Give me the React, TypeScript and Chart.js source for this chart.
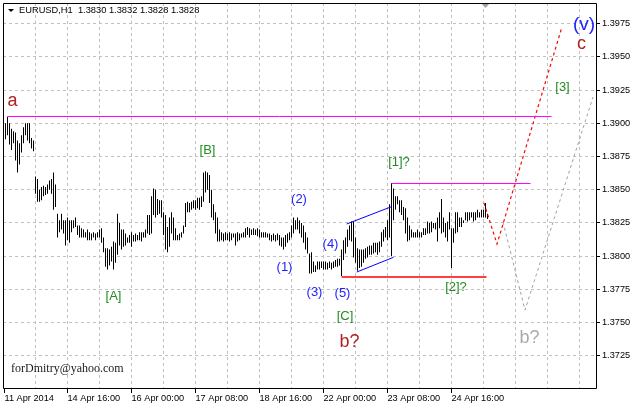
import React, { useEffect, useRef } from 'react';
import { Chart, registerables } from 'chart.js';

Chart.register(...registerables);

const symbolTitle = 'EURUSD,H1  1.3830 1.3832 1.3828 1.3828';
const watermark = 'forDmitry@yahoo.com';

// H1 bars (index 0 = first visible bar), high and low prices
const barHighs = [
  1.3900, 1.3905, 1.3900, 1.3896, 1.3894, 1.3893, 1.3887, 1.3885, 1.3891, 1.3897,
  1.3900, 1.3900, 1.3900, 1.3889, 1.3887, 1.3860, 1.3858, 1.3850, 1.3852, 1.3853,
  1.3852, 1.3854, 1.3857, 1.3858, 1.3863, 1.3854, 1.3832, 1.3827, 1.3832, 1.3827,
  1.3827, 1.3829, 1.3827, 1.3827, 1.3827, 1.3829, 1.3823, 1.3823, 1.3821, 1.3820,
  1.3818, 1.3820, 1.3818, 1.3817, 1.3818, 1.3817, 1.3818, 1.3820, 1.3821, 1.3814,
  1.3806, 1.3806, 1.3805, 1.3807, 1.3811, 1.3810, 1.3832, 1.3825, 1.3820, 1.3820,
  1.3817, 1.3814, 1.3816, 1.3818, 1.3816, 1.3817, 1.3816, 1.3818, 1.3818, 1.3818,
  1.3820, 1.3831, 1.3831, 1.3845, 1.3851, 1.3850, 1.3843, 1.3842, 1.3842, 1.3833,
  1.3831, 1.3822, 1.3829, 1.3833, 1.3829, 1.3821, 1.3816, 1.3817, 1.3818, 1.3823,
  1.3840, 1.3841, 1.3840, 1.3841, 1.3842, 1.3842, 1.3844, 1.3844, 1.3845, 1.3863,
  1.3864, 1.3863, 1.3861, 1.3850, 1.3839, 1.3833, 1.3829, 1.3820, 1.3818, 1.3817,
  1.3818, 1.3817, 1.3818, 1.3817, 1.3817, 1.3817, 1.3818, 1.3817, 1.3817, 1.3818,
  1.3821, 1.3822, 1.3821, 1.3820, 1.3821, 1.3820, 1.3821, 1.3820, 1.3818, 1.3818,
  1.3818, 1.3817, 1.3817, 1.3816, 1.3817, 1.3816, 1.3817, 1.3816, 1.3814, 1.3814,
  1.3816, 1.3817, 1.3818, 1.3823, 1.3829, 1.3827, 1.3829, 1.3827, 1.3825, 1.3823,
  1.3818, 1.3814, 1.3802, 1.3803, 1.3796, 1.3793, 1.3796, 1.3796, 1.3796, 1.3796,
  1.3796, 1.3795, 1.3796, 1.3795, 1.3796, 1.3797, 1.3798, 1.3798, 1.3805, 1.3812,
  1.3814, 1.3820, 1.3823, 1.3826, 1.3826, 1.3814, 1.3806, 1.3805, 1.3805, 1.3805,
  1.3806, 1.3807, 1.3808, 1.3808, 1.3810, 1.3810, 1.3810, 1.3811, 1.3818, 1.3820,
  1.3822, 1.3827, 1.3839, 1.3855, 1.3851, 1.3845, 1.3845, 1.3842, 1.3842, 1.3837,
  1.3836, 1.3829, 1.3823, 1.3820, 1.3818, 1.3818, 1.3820, 1.3818, 1.3818, 1.3821,
  1.3821, 1.3826, 1.3825, 1.3826, 1.3825, 1.3825, 1.3829, 1.3833, 1.3843, 1.3829,
  1.3825, 1.3826, 1.3833, 1.3821, 1.3821, 1.3833, 1.3833, 1.3829, 1.3829, 1.3827,
  1.3833, 1.3833, 1.3833, 1.3833, 1.3833, 1.3833, 1.3835, 1.3833, 1.3835, 1.3835,
  1.3840, 1.3832,
];
const barLows = [
  1.3888, 1.3891, 1.3884, 1.3880, 1.3885, 1.3872, 1.3863, 1.3869, 1.3878, 1.3885,
  1.3891, 1.3887, 1.3885, 1.3881, 1.3879, 1.3847, 1.3841, 1.3841, 1.3842, 1.3845,
  1.3846, 1.3847, 1.3850, 1.3847, 1.3835, 1.3837, 1.3814, 1.3818, 1.3820, 1.3817,
  1.3808, 1.3812, 1.3810, 1.3818, 1.3821, 1.3822, 1.3816, 1.3814, 1.3814, 1.3814,
  1.3814, 1.3812, 1.3812, 1.3812, 1.3814, 1.3812, 1.3814, 1.3814, 1.3810, 1.3803,
  1.3792, 1.3790, 1.3793, 1.3796, 1.3790, 1.3795, 1.3801, 1.3808, 1.3805, 1.3807,
  1.3808, 1.3810, 1.3810, 1.3807, 1.3811, 1.3811, 1.3812, 1.3812, 1.3811, 1.3814,
  1.3814, 1.3817, 1.3816, 1.3817, 1.3831, 1.3829, 1.3831, 1.3832, 1.3829, 1.3816,
  1.3805, 1.3803, 1.3807, 1.3817, 1.3812, 1.3812, 1.3812, 1.3812, 1.3814, 1.3817,
  1.3822, 1.3833, 1.3833, 1.3835, 1.3836, 1.3835, 1.3836, 1.3835, 1.3837, 1.3841,
  1.3848, 1.3850, 1.3840, 1.3829, 1.3827, 1.3817, 1.3811, 1.3811, 1.3812, 1.3811,
  1.3812, 1.3812, 1.3811, 1.3812, 1.3814, 1.3808, 1.3811, 1.3812, 1.3814, 1.3814,
  1.3814, 1.3816, 1.3814, 1.3816, 1.3816, 1.3816, 1.3815, 1.3814, 1.3814, 1.3814,
  1.3814, 1.3814, 1.3812, 1.3811, 1.3812, 1.3811, 1.3812, 1.3808, 1.3807, 1.3805,
  1.3807, 1.3810, 1.3812, 1.3814, 1.3817, 1.3820, 1.3820, 1.3817, 1.3814, 1.3810,
  1.3805, 1.3802, 1.3787, 1.3787, 1.3788, 1.3788, 1.3790, 1.3790, 1.3791, 1.3790,
  1.3790, 1.3790, 1.3791, 1.3790, 1.3791, 1.3792, 1.3792, 1.3793, 1.3785, 1.3797,
  1.3802, 1.3807, 1.3812, 1.3811, 1.3799, 1.3795, 1.3789, 1.3791, 1.3792, 1.3795,
  1.3798, 1.3799, 1.3801, 1.3801, 1.3802, 1.3803, 1.3801, 1.3803, 1.3807, 1.3811,
  1.3814, 1.3812, 1.3814, 1.3800, 1.3827, 1.3835, 1.3839, 1.3833, 1.3831, 1.3827,
  1.3817, 1.3811, 1.3812, 1.3814, 1.3814, 1.3814, 1.3814, 1.3814, 1.3814, 1.3816,
  1.3816, 1.3817, 1.3817, 1.3818, 1.3821, 1.3820, 1.3811, 1.3821, 1.3817, 1.3818,
  1.3814, 1.3811, 1.3820, 1.3791, 1.3810, 1.3817, 1.3818, 1.3822, 1.3822, 1.3825,
  1.3827, 1.3826, 1.3827, 1.3829, 1.3826, 1.3827, 1.3829, 1.3829, 1.3829, 1.3829,
  1.3829, 1.3828,
];

// Price axis
const yMin = 1.37007;
const yMax = 1.39906;
const priceTicks = [1.3725, 1.375, 1.3775, 1.38, 1.3825, 1.385, 1.3875, 1.39, 1.3925, 1.395, 1.3975];

// Time axis (bar index positions)
const xMin = -1.25;
const xMax = 295.25;
const timeLabelIndex = [-0.5, 31, 63, 95, 127, 159, 191, 223];
const timeLabels = ['11 Apr 2014', '14 Apr 16:00', '16 Apr 00:00', '17 Apr 08:00', '18 Apr 16:00', '22 Apr 00:00', '23 Apr 08:00', '24 Apr 16:00'];
const timeGridIndex = [15, 31, 47, 63, 79, 95, 111, 127, 143, 159, 175, 191, 207, 223, 239, 255, 271, 287];
const shiftMarkerIndex = 240;

// Drawn objects (bar index, price)
const levelAX = [1, 273];
const levelAY = [1.390514, 1.390514];
const level1X = [193, 262.5];
const level1Y = [1.385469, 1.385469];
const supportX = [168, 240.5];
const supportY = [1.378428, 1.378428];
const channelUpX = [170.6, 193.1];
const channelUpY = [1.38242, 1.38373];
const channelLowX = [175.6, 194];
const channelLowY = [1.3788, 1.37991];
const forecastMainX = [239.25, 245.75, 278.25];
const forecastMainY = [1.384, 1.38091, 1.39727];
const forecastAltX = [248.75, 259.75, 293.75];
const forecastAltY = [1.38257, 1.37594, 1.39198];

// Wave labels
const waveText = ['a', '[B]', '[A]', '(1)', '(2)', '(3)', '(4)', '(5)', '[C]', 'b?', '[1]?', '[2]?', 'b?', '[3]', 'c', '(v)'];
const waveIndex = [3.5, 101, 54, 139.5, 146.75, 154.5, 162.5, 168.5, 169.75, 172, 196.75, 225.25, 262, 278.5, 288, 289.25];
const wavePrice = [1.39168, 1.38795, 1.377, 1.37918, 1.3843, 1.3773, 1.38087, 1.37718, 1.37549, 1.37353, 1.38705, 1.37764, 1.37383, 1.3927, 1.39597, 1.3974];
const waveDegree = ['primary', 'inter', 'inter', 'minor', 'minor', 'minor', 'minor', 'minor', 'inter', 'primary', 'inter', 'inter', 'alt', 'inter', 'primary', 'cycle'];

const degreeStyle: Record<string, { color: string; size: number }> = {
  primary: { color: '#b22222', size: 18 },
  inter: { color: '#228b22', size: 13 },
  minor: { color: '#2222ff', size: 13 },
  alt: { color: '#a9a9a9', size: 18 },
  cycle: { color: '#2222ff', size: 19 },
};

const SANS = '"Liberation Sans", Arial, sans-serif';

function pts(xs: number[], ys: number[]) {
  return xs.map((x, k) => ({ x, y: ys[k] }));
}

const overlayPlugin = {
  id: 'overlay',
  afterDatasetsDraw(chart: any) {
    const { ctx, chartArea, scales } = chart;
    const xs = scales.x;
    const ys = scales.y;
    ctx.save();
    // wave labels
    ctx.textAlign = 'center';
    ctx.textBaseline = 'middle';
    waveText.forEach((t, k) => {
      const st = degreeStyle[waveDegree[k]];
      ctx.font = `${st.size}px ${SANS}`;
      ctx.fillStyle = st.color;
      ctx.fillText(t, xs.getPixelForValue(waveIndex[k]), ys.getPixelForValue(wavePrice[k]));
    });
    // shift marker
    const mx = xs.getPixelForValue(shiftMarkerIndex);
    ctx.fillStyle = '#a0a0a0';
    ctx.beginPath();
    ctx.moveTo(mx - 4.5, chartArea.top);
    ctx.lineTo(mx + 4.5, chartArea.top);
    ctx.lineTo(mx, chartArea.top + 5);
    ctx.closePath();
    ctx.fill();
    // title
    ctx.fillStyle = '#000';
    ctx.beginPath();
    ctx.moveTo(chartArea.left + 5, chartArea.top + 6);
    ctx.lineTo(chartArea.left + 11, chartArea.top + 6);
    ctx.lineTo(chartArea.left + 8, chartArea.top + 9);
    ctx.closePath();
    ctx.fill();
    ctx.textAlign = 'left';
    ctx.font = `9.3px ${SANS}`;
    ctx.fillText(symbolTitle, chartArea.left + 16, chartArea.top + 7.5);
    // watermark
    ctx.font = '12px "Liberation Serif", "Times New Roman", serif';
    ctx.fillStyle = '#1a1a1a';
    ctx.fillText(watermark, chartArea.left + 8, chartArea.bottom - 19);
    ctx.restore();
  },
  afterDraw(chart: any) {
    const { ctx, chartArea } = chart;
    ctx.save();
    ctx.strokeStyle = '#000';
    ctx.lineWidth = 1;
    ctx.beginPath();
    ctx.moveTo(chartArea.left + 0.5, chartArea.bottom + 0.5);
    ctx.lineTo(chartArea.left + 0.5, chartArea.top + 0.5);
    ctx.lineTo(chartArea.right + 0.5, chartArea.top + 0.5);
    ctx.lineTo(chartArea.right + 0.5, chartArea.bottom + 0.5);
    ctx.lineTo(chartArea.left + 0.5, chartArea.bottom + 0.5);
    ctx.stroke();
    ctx.restore();
  },
};

export default function App() {
  const canvasRef = useRef<HTMLCanvasElement | null>(null);

  useEffect(() => {
    const canvas = canvasRef.current;
    if (!canvas) return;
    const lineDs = (xs: number[], ys: number[], color: string, width: number, dash: number[] = []) => ({
      type: 'line' as const,
      data: pts(xs, ys),
      borderColor: color,
      borderWidth: width,
      borderDash: dash,
      pointRadius: 0,
      fill: false,
      tension: 0,
      order: 1,
    });
    const chart = new Chart(canvas, {
      type: 'bar',
      data: {
        datasets: [
          {
            type: 'bar',
            data: barHighs.map((h, i) => ({ x: i, y: [barLows[i], h] })) as any,
            backgroundColor: '#000',
            borderWidth: 0,
            barThickness: 1,
            inflateAmount: 0,
            order: 10,
          } as any,
          lineDs(levelAX, levelAY, '#ff00ff', 1),
          lineDs(level1X, level1Y, '#ff00ff', 1),
          lineDs(supportX, supportY, '#ff0000', 1.5),
          lineDs(channelUpX, channelUpY, '#0000ff', 1),
          lineDs(channelLowX, channelLowY, '#0000ff', 1),
          lineDs(forecastMainX, forecastMainY, '#ff0000', 1.2, [3, 3]),
          lineDs(forecastAltX, forecastAltY, '#a0a0a0', 1, [3, 3]),
        ] as any,
      },
      options: {
        responsive: false,
        animation: false,
        devicePixelRatio: 1,
        layout: { padding: { left: 3, top: 3, right: 0, bottom: 0 } },
        plugins: { legend: { display: false }, tooltip: { enabled: false }, title: { display: false } },
        events: [],
        scales: {
          x: {
            type: 'linear',
            position: 'bottom',
            offset: false,
            min: xMin,
            max: xMax,
            afterBuildTicks: (s: any) => {
              const all = [...timeGridIndex, timeLabelIndex[0]].sort((a, b) => a - b);
              s.ticks = all.map((v) => ({ value: v }));
            },
            afterFit: (s: any) => {
              s.height = 18;
              s.paddingLeft = 0;
              s.paddingRight = 0;
            },
            ticks: {
              autoSkip: false,
              maxRotation: 0,
              minRotation: 0,
              align: 'start',
              padding: 0,
              color: '#000',
              font: { family: SANS, size: 9.2 },
              callback: (v: any) => {
                const k = timeLabelIndex.indexOf(Number(v));
                return k >= 0 ? timeLabels[k] : '';
              },
            },
            grid: {
              offset: false,
              color: (c: any) => (c.tick && c.tick.value < 0 ? 'rgba(0,0,0,0)' : '#c0c0c0'),
              tickColor: (c: any) => (c.tick && timeLabelIndex.includes(c.tick.value) ? '#000' : 'rgba(0,0,0,0)'),
              tickLength: 5,
              lineWidth: 1,
            },
            border: { display: false, dash: [3, 3] },
          },
          y: {
            type: 'linear',
            position: 'right',
            min: yMin,
            max: yMax,
            afterBuildTicks: (s: any) => {
              s.ticks = priceTicks.map((v) => ({ value: v }));
            },
            afterFit: (s: any) => {
              s.width = 37;
              s.paddingTop = 0;
              s.paddingBottom = 0;
            },
            ticks: {
              padding: 2,
              color: '#000',
              font: { family: SANS, size: 9.2 },
              callback: (v: any) => Number(v).toFixed(4),
            },
            grid: {
              color: '#c0c0c0',
              tickColor: '#000',
              tickLength: 4,
              lineWidth: 1,
            },
            border: { display: false, dash: [3, 3] },
          },
        },
      } as any,
      plugins: [overlayPlugin],
    });
    return () => chart.destroy();
  }, []);

  return (
    <div style={{ position: 'fixed', left: 0, top: 0, width: 633, height: 406, background: '#fff' }}>
      <canvas ref={canvasRef} width={633} height={406} style={{ display: 'block', width: 633, height: 406 }} />
    </div>
  );
}
